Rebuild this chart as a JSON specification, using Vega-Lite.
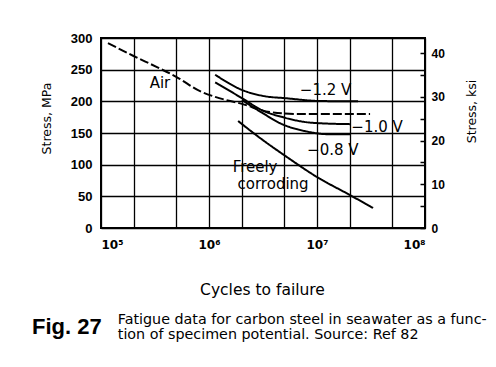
{
  "$schema": "https://vega.github.io/schema/vega-lite/v6.json",
  "width": 324,
  "height": 190,
  "autosize": "none",
  "padding": {"left": 101, "top": 38, "right": 71, "bottom": 139},
  "background": "white",
  "config": {
    "view": {"stroke": "black", "strokeWidth": 2},
    "axis": {
      "domain": false,
      "gridColor": "black",
      "gridOpacity": 1,
      "gridWidth": 1.3,
      "labelColor": "black",
      "titleColor": "black",
      "labelFont": "Liberation Sans",
      "titleFont": "DejaVu Sans",
      "titleFontWeight": "normal"
    }
  },
  "datasets": {
    "curves": [
      {"series": "Air", "N": 116000, "stress": 292},
      {"series": "Air", "N": 198000, "stress": 272},
      {"series": "Air", "N": 330000, "stress": 254},
      {"series": "Air", "N": 506000, "stress": 238},
      {"series": "Air", "N": 826000, "stress": 216},
      {"series": "Air", "N": 1140000, "stress": 207},
      {"series": "Air", "N": 2020000, "stress": 196},
      {"series": "Air", "N": 3670000, "stress": 183},
      {"series": "Air", "N": 6970000, "stress": 180},
      {"series": "Air", "N": 31000000, "stress": 180},
      {"series": "-1.2 V", "N": 1140000, "stress": 242},
      {"series": "-1.2 V", "N": 2020000, "stress": 218},
      {"series": "-1.2 V", "N": 3300000, "stress": 208},
      {"series": "-1.2 V", "N": 5060000, "stress": 205},
      {"series": "-1.2 V", "N": 10700000, "stress": 200.5},
      {"series": "-1.2 V", "N": 24000000, "stress": 200},
      {"series": "-1.0 V", "N": 1140000, "stress": 230},
      {"series": "-1.0 V", "N": 2020000, "stress": 205},
      {"series": "-1.0 V", "N": 3100000, "stress": 186},
      {"series": "-1.0 V", "N": 5060000, "stress": 174},
      {"series": "-1.0 V", "N": 9180000, "stress": 166},
      {"series": "-1.0 V", "N": 20200000, "stress": 164},
      {"series": "-0.8 V", "N": 2020000, "stress": 202},
      {"series": "-0.8 V", "N": 3100000, "stress": 182},
      {"series": "-0.8 V", "N": 4740000, "stress": 164},
      {"series": "-0.8 V", "N": 7740000, "stress": 153},
      {"series": "-0.8 V", "N": 13200000, "stress": 148},
      {"series": "-0.8 V", "N": 20200000, "stress": 148},
      {"series": "Freely corroding", "N": 1860000, "stress": 169},
      {"series": "Freely corroding", "N": 2670000, "stress": 148},
      {"series": "Freely corroding", "N": 5270000, "stress": 112},
      {"series": "Freely corroding", "N": 10000000, "stress": 80.5},
      {"series": "Freely corroding", "N": 20200000, "stress": 52},
      {"series": "Freely corroding", "N": 33000000, "stress": 31.6}
    ],
    "labels": [
      {"label": "−1.2 V", "N": 12000000, "stress": 218},
      {"label": "Air", "N": 351600, "stress": 229},
      {"label": "−1.0 V", "N": 36000000, "stress": 159.5},
      {"label": "−0.8 V", "N": 14000000, "stress": 123},
      {"label": "Freely", "N": 2670000, "stress": 96},
      {"label": "corroding", "N": 3920000, "stress": 69.5}
    ]
  },
  "title": {
    "text": "Fig. 27",
    "subtitle": [
      "\u200d\u2003\u2003\u2003\u2003\u2003\u2003Fatigue data for carbon steel in seawater as a func-",
      "\u200d\u2003\u2003\u2003\u2003\u2003\u2003tion of specimen potential. Source: Ref 82"
    ],
    "orient": "bottom",
    "anchor": "start",
    "frame": "group",
    "dx": -69,
    "offset": 19,
    "font": "Liberation Sans",
    "fontSize": 22,
    "fontWeight": "bold",
    "color": "black",
    "subtitleFont": "DejaVu Sans",
    "subtitleFontSize": 14.3,
    "subtitleLineHeight": 15.5,
    "subtitlePadding": -26,
    "subtitleColor": "black"
  },
  "resolve": {"scale": {"y": "independent"}},
  "layer": [
    {
      "encoding": {
        "x": {
          "field": "N",
          "type": "quantitative",
          "scale": {"type": "log", "domain": [100000, 100000000], "nice": false},
          "axis": {
            "values": [100000, 200000, 500000, 1000000, 2000000, 5000000, 10000000, 20000000, 50000000, 100000000],
            "labelExpr": "datum.value == 100000 ? '10⁵' : datum.value == 1000000 ? '10⁶' : datum.value == 10000000 ? '10⁷' : datum.value == 100000000 ? '10⁸' : ''",
            "tickSize": 0,
            "labelPadding": 11,
            "labelFont": "DejaVu Sans",
            "labelFontSize": 12,
            "labelFontWeight": "bold",
            "grid": true,
            "title": "Cycles to failure",
            "titleFontSize": 15.5,
            "titleX": 161,
            "titleY": 66,
            "titleBaseline": "alphabetic"
          }
        },
        "y": {
          "field": "stress",
          "type": "quantitative",
          "scale": {"domain": [0, 300], "nice": false},
          "axis": {
            "values": [0, 50, 100, 150, 200, 250, 300],
            "tickSize": 0,
            "labelPadding": 9,
            "labelFontSize": 13,
            "labelFontWeight": "bold",
            "grid": true,
            "title": "Stress, MPa",
            "titleFontSize": 12.5,
            "titleAngle": -90,
            "titleX": -51,
            "titleY": 80,
            "titleAlign": "center",
            "titleBaseline": "alphabetic"
          }
        }
      },
      "layer": [
        {
          "data": {"name": "curves"},
          "mark": {"type": "line", "color": "black", "strokeWidth": 2, "interpolate": "monotone"},
          "encoding": {
            "detail": {"field": "series"},
            "strokeDash": {
              "field": "series",
              "type": "nominal",
              "scale": {
                "domain": ["Air", "-1.2 V", "-1.0 V", "-0.8 V", "Freely corroding"],
                "range": [[9, 3], [1, 0], [1, 0], [1, 0], [1, 0]]
              },
              "legend": null
            }
          }
        },
        {
          "data": {"name": "labels"},
          "mark": {"type": "text", "font": "DejaVu Sans", "fontSize": 15, "color": "black"},
          "encoding": {
            "text": {"field": "label"}
          }
        }
      ]
    },
    {
      "data": {"values": [{}]},
      "mark": {"type": "rule", "opacity": 0},
      "encoding": {
        "y": {
          "datum": 0,
          "type": "quantitative",
          "scale": {"domain": [0, 43.51], "nice": false},
          "axis": {
            "orient": "right",
            "values": [0, 5, 10, 15, 20, 25, 30, 35, 40],
            "labelExpr": "datum.value % 10 == 0 ? datum.label : ''",
            "tickSize": -5,
            "tickColor": "black",
            "tickWidth": 1.5,
            "labelPadding": 11,
            "labelFontSize": 12,
            "labelFontWeight": "bold",
            "grid": false,
            "title": "Stress, ksi",
            "titleFontSize": 12.5,
            "titleAngle": -90,
            "titleX": 50,
            "titleY": 73,
            "titleAlign": "center",
            "titleBaseline": "alphabetic"
          }
        }
      }
    }
  ]
}
